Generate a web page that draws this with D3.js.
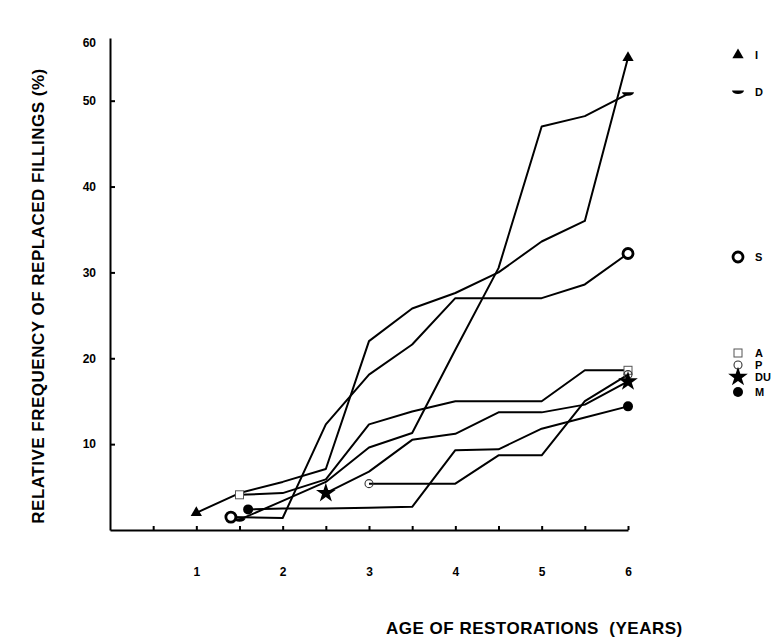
<!DOCTYPE html>
<html lang="en">
<head>
<meta charset="utf-8">
<title>Replaced fillings by age</title>
<script src="https://d3js.org/d3.v7.min.js"></script>
<style>
  body { margin: 0; background: #fff; }
  text { font-family: "Liberation Sans", Arial, sans-serif; fill: #000; }
</style>
</head>
<body>
<div id="chart"></div>
<script>

// data: [age in years, relative frequency %]
var seriesI  = [[1,2.0],[1.5,4.3],[2,5.6],[2.5,7.1],[3,22.0],[3.5,25.8],[4,27.6],[4.5,30.0],[5,33.6],[5.5,36.0],[6,55.0]];
var seriesD  = [[1.5,1.2],[2,3.4],[2.5,5.6],[3,9.6],[3.5,11.3],[4,21.0],[4.5,30.5],[5,47.0],[5.5,48.2],[6,50.8]];
var seriesS  = [[1.4,1.5],[2,1.4],[2.5,12.3],[3,18.1],[3.5,21.6],[4,27.0],[5,27.0],[5.5,28.6],[6,32.2]];
var seriesA  = [[1.5,4.1],[2,4.3],[2.5,5.9],[3,12.3],[3.5,13.8],[4,15.0],[5,15.0],[5.5,18.6],[6,18.6]];
var seriesP  = [[3,5.4],[4,5.4],[4.5,8.7],[5,8.7],[5.5,15.0],[6,18.1]];
var seriesDU = [[2.5,4.3],[3,6.8],[3.5,10.5],[4,11.2],[4.5,13.7],[5,13.7],[5.5,14.6],[6,17.3]];
var seriesM  = [[1.6,2.4],[2,2.5],[2.5,2.5],[3,2.6],[3.5,2.7],[4,9.3],[4.5,9.4],[5,11.8],[5.5,13.1],[6,14.4]];

var seriesNames = ["I", "D", "S", "A", "P", "DU", "M"];
var xTicks = [0.5,1,1.5,2,2.5,3,3.5,4,4.5,5,5.5,6];
var yTicks = [10,20,30,40,50];
var yTopLabel = "60";

var w = 779;
var h = 640;

var svg = d3.select("#chart")
  .append("svg")
  .attr("width", w)
  .attr("height", h);

var xScale = d3.scaleLinear().domain([0, 6]).range([110, 628]);
var yScale = d3.scaleLinear().domain([0, 57.3]).range([530, 38]);

// axes: ticks point inwards like the original
svg.append("g")
  .attr("transform", "translate(0," + yScale(0) + ")")
  .call(d3.axisBottom(xScale)
    .tickValues(xTicks)
    .tickSizeInner(-4)
    .tickSizeOuter(0)
    .tickPadding(37)
    .tickFormat(function(d){ return d % 1 === 0 ? d : ""; }));

svg.append("g")
  .attr("transform", "translate(" + xScale(0) + ",0)")
  .call(d3.axisLeft(yScale)
    .tickValues(yTicks)
    .tickSizeInner(-5)
    .tickSizeOuter(0)
    .tickPadding(14));

svg.selectAll(".domain, .tick line")
  .attr("stroke", "#000")
  .attr("stroke-width", 2);
svg.selectAll(".tick text")
  .style("font-size", "12px")
  .style("font-weight", "bold")
  .attr("fill", "#000");

// the top label sits at the end of the axis in the original
svg.append("text")
  .attr("x", xScale(0) - 14)
  .attr("y", 43)
  .attr("dy", "0.35em")
  .style("text-anchor", "end")
  .style("font-size", "12px")
  .style("font-weight", "bold")
  .text(yTopLabel);

// axis titles
svg.append("text")
  .attr("transform", "translate(44,296) rotate(-90)")
  .style("text-anchor", "middle")
  .style("font-size", "17px")
  .style("font-weight", "bold")
  .style("letter-spacing", "0.5px")
  .text("RELATIVE FREQUENCY OF REPLACED FILLINGS (%)");

svg.append("text")
  .attr("x", 386)
  .attr("y", 634)
  .style("font-size", "17px")
  .style("font-weight", "bold")
  .style("letter-spacing", "0.5px")
  .style("white-space", "pre")
  .text("AGE OF RESTORATIONS  (YEARS)");

// marker drawing per series
var halfMoon = "M-6,-1.5 A6,3.5 0 0 0 6,-1.5 Z";
function drawMarker(g, name) {
  if (name === "I") {
    g.append("path").attr("d", d3.symbol(d3.symbolTriangle, 55)()).attr("fill", "#000");
  } else if (name === "D") {
    g.append("path").attr("d", halfMoon).attr("fill", "#000");
  } else if (name === "S") {
    g.append("circle").attr("r", 5).attr("fill", "#fff").attr("stroke", "#000").attr("stroke-width", 2.8);
  } else if (name === "A") {
    g.append("rect").attr("x", -4).attr("y", -4).attr("width", 8).attr("height", 8)
      .attr("fill", "#fff").attr("stroke", "#555").attr("stroke-width", 1);
  } else if (name === "P") {
    g.append("circle").attr("r", 4).attr("fill", "none").attr("stroke", "#333").attr("stroke-width", 1.1);
  } else if (name === "DU") {
    g.append("path").attr("d", d3.symbol(d3.symbolStar, 120)()).attr("fill", "#000");
  } else if (name === "M") {
    g.append("circle").attr("r", 5).attr("fill", "#000");
  }
}

var allSeries = [seriesI, seriesD, seriesS, seriesA, seriesP, seriesDU, seriesM];

var line = d3.line()
  .x(function(d){ return xScale(d[0]); })
  .y(function(d){ return yScale(d[1]); });

svg.append("g").selectAll("path")
  .data(allSeries)
  .enter()
  .append("path")
  .attr("d", line)
  .attr("fill", "none")
  .attr("stroke", "#000")
  .attr("stroke-width", 2)
  .attr("stroke-linejoin", "round");

// start and end markers
allSeries.forEach(function(s, i){
  [s[0], s[s.length - 1]].forEach(function(p){
    var g = svg.append("g")
      .attr("transform", "translate(" + xScale(p[0]) + "," + yScale(p[1]) + ")");
    drawMarker(g, seriesNames[i]);
  });
});

// legend on the right, each entry at its own height as in the original
var legendY = [55, 92, 257, 353, 365, 377, 392];
seriesNames.forEach(function(name, i){
  var g = svg.append("g").attr("transform", "translate(738," + legendY[i] + ")");
  drawMarker(g, name);
  g.append("text")
    .attr("x", 17)
    .attr("dy", "0.35em")
    .style("font-size", "11px")
    .style("font-weight", "bold")
    .text(name);
});

</script>
</body>
</html>
